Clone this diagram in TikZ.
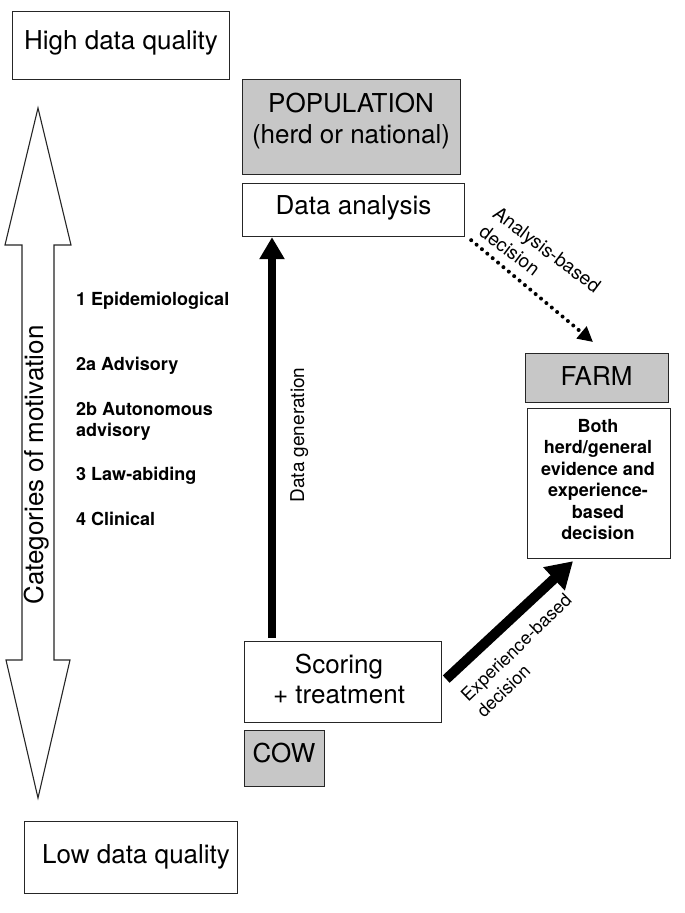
\documentclass[tikz,border=0pt]{standalone}
\usepackage{fontspec}
\setmainfont{TeX Gyre Heros}
\usetikzlibrary{arrows.meta}
\begin{document}
\begin{tikzpicture}[x=1pt,y=-1pt,
  box/.style={draw=black!85, line width=1.2pt, anchor=north west, inner sep=0pt},
  gbox/.style={box, fill=black!22},
  big/.style={font=\fontsize{26}{31}\selectfont, inner sep=0pt},
  lab/.style={font=\bfseries\fontsize{18}{21}\selectfont, inner sep=0pt},
  rlab/.style={font=\fontsize{19}{23}\selectfont, inner sep=0pt},
  vthick/.style={line width=8pt, -{Triangle[length=22pt,width=24pt]}},
  ethick/.style={line width=10pt, -{Triangle[length=26pt,width=30pt]}},
  dotarrow/.style={line width=4pt, line cap=round, dash pattern=on 0pt off 7pt, -{Triangle[length=15pt,width=15pt]}}
]
\useasboundingbox (0,0) rectangle (685,913);

% quality boxes
\node[box, minimum width=217pt, minimum height=68pt] (high) at (12,11) {};
\node[big, anchor=base] (hightxt) at (121,49.5) {High data quality};
\node[box, minimum width=213pt, minimum height=72pt] (low) at (24,821) {};
\node[big, anchor=base west] (lowtxt) at (42,863) {Low data quality};

% double arrow
\draw[line width=1.1pt, draw=black!85, fill=white]
  (38,108) -- (71,245) -- (54,245) -- (54,660) -- (70,660) -- (38,798)
  -- (6,660) -- (22,660) -- (22,245) -- (5,245) -- cycle;
\node[big, rotate=90, anchor=base] (cat) at (43,465) {Categories of motivation};

% motivation labels
\node[lab, anchor=base west] (m1) at (76,305) {1 Epidemiological};
\node[lab, anchor=base west] (m2a) at (76,370) {2a Advisory};
\node[lab, anchor=north west, align=left] (m2b) at (76,401.8) {2b Autonomous\\advisory};
\node[lab, anchor=base west] (m3) at (76,480) {3 Law-abiding};
\node[lab, anchor=base west] (m4) at (76,525) {4 Clinical};

% population / analysis
\node[gbox, minimum width=218pt, minimum height=95pt] (pop) at (242,79) {};
\node[big, anchor=north, align=center] (poptxt) at (351,92.8) {POPULATION\\(herd or national)};
\node[box, minimum width=222pt, minimum height=53pt] (analysis) at (242,183) {};
\node[big, anchor=base] (antxt) at (353.5,214) {Data analysis};

% cow level
\node[box, minimum width=197pt, minimum height=81pt] (score) at (244,641) {};
\node[big, anchor=north, align=center, font=\fontsize{26}{29.5}\selectfont] (sctxt) at (339,654) {Scoring\\+ treatment};
\node[gbox, minimum width=80pt, minimum height=56pt] (cow) at (244,730) {};
\node[big, anchor=base] (cowtxt) at (284,762) {COW};

% farm
\node[gbox, minimum width=143pt, minimum height=49pt] (farm) at (525,353) {};
\node[big, anchor=base] (farmtxt) at (596.5,385) {FARM};
\node[box, minimum width=143pt, minimum height=150pt] (both) at (527,408) {};
\node[lab, anchor=north, align=center, font=\bfseries\fontsize{18}{21.5}\selectfont] (bothtxt) at (598,419)
  {Both\\herd/general\\evidence and\\experience-\\based\\decision};

% connectors
\coordinate (dgx) at (272,0);
\draw[vthick] ([yshift=3pt]score.north -| dgx) -- (analysis.south -| dgx);
\node[rlab, rotate=90, anchor=base] (dglab) at (304,435) {Data generation};

\draw[dotarrow] ([xshift=6pt,yshift=-3pt]analysis.south east) -- ([xshift=68pt,yshift=11pt]farm.north west);
\node[rlab, rotate=-37, anchor=north west, align=left] (anlab) at (500,205) {Analysis-based\\decision};

\draw[ethick] ([xshift=4pt,yshift=3pt]score.east) -- ([xshift=46pt,yshift=-2pt]both.south west);
\node[rlab, rotate=44, anchor=north west, align=left, font=\fontsize{18}{22.5}\selectfont] (exlab) at (459,693) {Experience-based\\decision};
\end{tikzpicture}
\end{document}
